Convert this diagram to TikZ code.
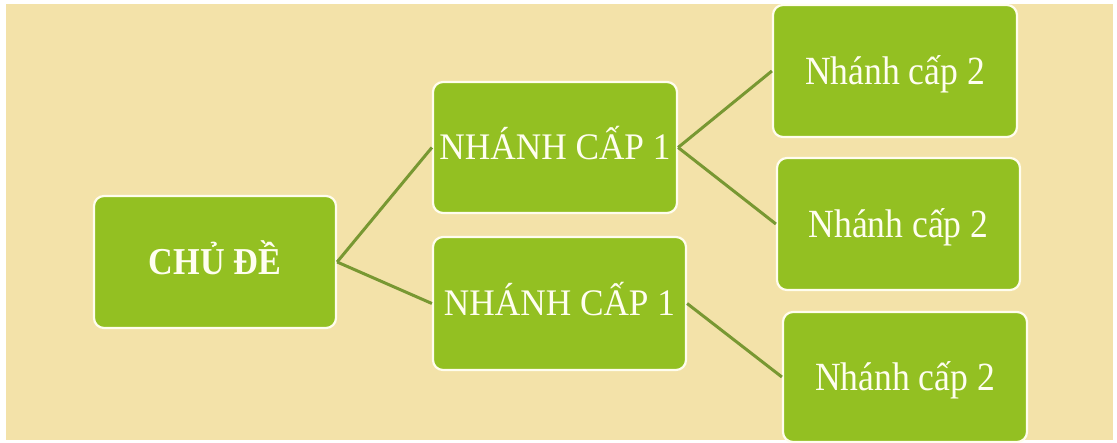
\documentclass[tikz,border=0pt]{standalone}
\usepackage{fontspec}
\setmainfont{Liberation Serif}
\definecolor{paper}{RGB}{243,226,169}
\definecolor{leaf}{RGB}{147,192,34}
\definecolor{stem}{RGB}{120,152,50}
\definecolor{rim}{RGB}{255,253,238}
\definecolor{ink}{RGB}{255,254,240}
% horizontally condensed label text
\newcommand{\narrowlabel}[2]{\scalebox{#1}[1]{#2}}
\begin{document}
\begin{tikzpicture}[x=1pt,y=-1pt,
  box/.style={draw=rim, line width=2.2pt, fill=leaf, rounded corners=10pt,
    text=ink, align=center, inner sep=0pt, text depth=0pt},
  % text height = cap height, so the capitals sit centred in each box
  topicfont/.style={font=\fontsize{38}{40}\selectfont\bfseries, text height=25.2pt},
  levelone/.style={font=\fontsize{37.5}{40}\selectfont, text height=24.8pt},
  leveltwo/.style={font=\fontsize{40}{42}\selectfont, text height=26.5pt},
  link/.style={draw=stem, line width=3pt}]
  \useasboundingbox (0,0) rectangle (1117,443);
  \fill[white] (0,0) rectangle (1117,443);
  \fill[paper] (6,4) rectangle (1113,440);

  % topic
  \node[box, topicfont, minimum width=242pt, minimum height=132pt]
    (root) at (215,262) {\narrowlabel{0.9}{CHỦ ĐỀ}};

  % first-level branches
  \node[box, levelone, minimum width=244pt, minimum height=131pt]
    (a1) at (555,147.5) {\narrowlabel{0.94}{NHÁNH CẤP 1}};
  \node[box, levelone, minimum width=253pt, minimum height=133pt]
    (a2) at (559.5,303.5) {\narrowlabel{0.94}{NHÁNH CẤP 1}};

  % second-level branches
  \node[box, leveltwo, minimum width=244pt, minimum height=132pt]
    (b1) at (895,71) {\narrowlabel{0.89}{Nhánh cấp 2}};
  \node[box, leveltwo, minimum width=243pt, minimum height=132pt]
    (b2) at (898.5,224) {\narrowlabel{0.89}{Nhánh cấp 2}};
  \node[box, leveltwo, minimum width=244pt, minimum height=130pt]
    (b3) at (905,377) {\narrowlabel{0.89}{Nhánh cấp 2}};

  % connectors
  \draw[link] (root.east) -- (a1.west);
  \draw[link] (root.east) -- (a2.west);
  \draw[link] (a1.east) -- (b1.west);
  \draw[link] (a1.east) -- (b2.west);
  \draw[link] (a2.east) -- (b3.west);
\end{tikzpicture}
\end{document}
